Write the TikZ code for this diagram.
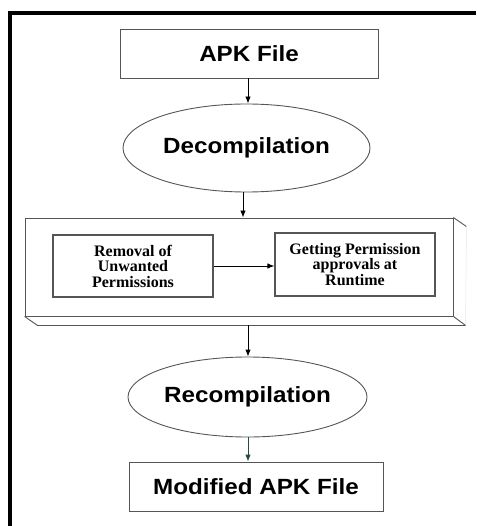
\documentclass[tikz,border=0pt]{standalone}
\usepackage{fontspec}
\setmainfont{Liberation Serif}
\newfontfamily\headfont[FakeStretch=1.1]{Liberation Sans}
\usetikzlibrary{shapes.geometric,arrows.meta}
\definecolor{edgegray}{RGB}{85,85,85}
\definecolor{darkteal}{RGB}{40,75,60}

\begin{document}
\begin{tikzpicture}[x=1pt,y=-1pt,
    every path/.style={line width=0.9pt},
    mainbox/.style={draw=edgegray,rectangle,inner sep=0pt,font=\headfont\bfseries\fontsize{22}{26}\selectfont},
    mainoval/.style={draw=edgegray,ellipse,inner sep=0pt,font=\headfont\bfseries\fontsize{22}{26}\selectfont},
    subbox/.style={draw=edgegray,line width=1.2pt,rectangle,inner sep=0pt,align=center,minimum width=160pt,font=\bfseries\fontsize{16}{15.5}\selectfont},
    flow/.style={-{Latex[length=7pt,width=5.5pt]},draw=black}]

    \useasboundingbox (0,0) rectangle (476,526);

    % outer frame
    \draw [line width=4pt] (9.5,526) -- (9.5,13) -- (476,13);

    \node [mainbox,minimum width=258pt,minimum height=49pt] (apk) at (249,53.5) {APK File};
    \node [mainoval,minimum width=247pt,minimum height=88pt] (decomp) at (246.5,148) {Decompilation};

    % 3d block
    \node [draw=edgegray,rectangle,minimum width=428pt,minimum height=98pt] (proc) at (239,267) {};
    \draw [edgegray] (proc.north east) -- ++(13,9) coordinate (pne);
    \draw [edgegray] (proc.south west) -- ++(13,9) coordinate (psw) -- ++(428,0) coordinate (pse);
    \draw [edgegray] (proc.south east) -- (pse);
    \draw [gray!20,line width=0.5pt] (pne) -- (pse);
    \coordinate (pbase) at (248,325);

    \node [subbox,minimum height=62pt] (removal) at (133,266) {Removal of\\Unwanted\\Permissions};
    \node [subbox,minimum height=63pt] (getting) at (355,264.5) {Getting Permission\\approvals at\\Runtime};

    \node [mainoval,minimum width=239pt,minimum height=80pt] (recomp) at (247.5,397) {Recompilation};
    \node [mainbox,minimum width=254pt,minimum height=49pt] (modapk) at (256,486.5) {Modified APK File};

    \draw [flow] (apk.south -| 248,0) -- (decomp.north -| 248,0);
    \draw [flow] (decomp.south -| 243,0) -- (proc.north -| 243,0);
    \draw [flow] (removal.east) -- (removal.east -| getting.west);
    \draw [flow] (pbase) -- (recomp.north -| pbase);
    \draw [flow,draw=darkteal,fill=darkteal] (recomp.south -| 248,0) -- (modapk.north -| 248,0);

\end{tikzpicture}
\end{document}
